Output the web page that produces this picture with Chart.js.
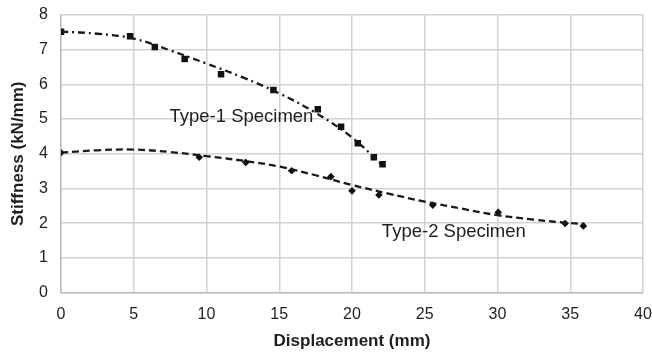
<!DOCTYPE html>
<html>
<head>
<meta charset="utf-8">
<script src="https://cdn.jsdelivr.net/npm/chart.js@4.4.1/dist/chart.umd.min.js"></script>
<style>
  html, body { margin: 0; padding: 0; background: #fff; }
  #wrap { width: 652px; height: 352px; }
</style>
</head>
<body>
<div id="wrap"><canvas id="stiffChart" width="652" height="352"></canvas></div>
<script>
// ------------ DATA ------------------------------------
const xTicks = [0, 5, 10, 15, 20, 25, 30, 35, 40];
const yTicks = [0, 1, 2, 3, 4, 5, 6, 7, 8];

// Type-1 specimen measured points
const type1X = [0, 4.75, 6.45, 8.5, 11.0, 14.6, 17.65, 19.25, 20.4, 21.5, 22.1];
const type1Y = [7.52, 7.39, 7.08, 6.73, 6.29, 5.84, 5.28, 4.78, 4.30, 3.90, 3.70];

// Type-2 specimen measured points
const type2X = [0, 9.5, 12.7, 15.85, 18.55, 20.0, 21.85, 25.55, 30.05, 34.65, 35.9];
const type2Y = [4.03, 3.90, 3.75, 3.51, 3.34, 2.93, 2.81, 2.52, 2.31, 1.99, 1.92];

// trend lines as drawn in the picture
const trend1X = [0, 2.5, 5, 7.5, 10, 12.5, 15, 17.5, 20, 22.1];
const trend1Y = [7.52, 7.46, 7.32, 6.98, 6.60, 6.20, 5.74, 5.18, 4.47, 3.66];
const trend2X = [0, 2.5, 5, 7.5, 10, 12.5, 15, 17.5, 20, 22.5, 25, 27.5, 30, 32.5, 35, 36];
const trend2Y = [4.03, 4.10, 4.12, 4.05, 3.93, 3.80, 3.63, 3.38, 3.10, 2.85, 2.62, 2.42, 2.23, 2.10, 2.00, 1.97];

// labels placed on the plot (data coords)
const seriesLabels = ["Type-1 Specimen", "Type-2 Specimen"];
const labelX = [12.4, 27.0];
const labelY = [5.07, 1.76];

const toPts = (xs, ys) => xs.map((x, i) => ({ x: x, y: ys[i] }));
const FONT = "'Liberation Sans', Arial, sans-serif";

// ================== TEXT LABEL PLUGIN ==================
const specimenLabels = {
    id: "specimenLabels",
    afterDatasetsDraw(chart) {
        const ctx = chart.ctx;
        const xs = chart.scales.x, ys = chart.scales.y;
        ctx.save();
        ctx.font = "18.5px " + FONT;
        ctx.fillStyle = "#1e1e1e";
        ctx.textAlign = "center";
        ctx.textBaseline = "middle";
        seriesLabels.forEach((t, i) => {
            ctx.fillText(t, xs.getPixelForValue(labelX[i]), ys.getPixelForValue(labelY[i]));
        });
        ctx.restore();
    }
};

const ctx = document.getElementById("stiffChart");

new Chart(ctx, {
    type: "line",
    data: {
        datasets: [
            {
                label: "Type-1 trend",
                data: toPts(trend1X, trend1Y),
                borderColor: "#1a1a1a",
                borderWidth: 2.3,
                borderDash: [7, 4, 2, 4],
                pointRadius: 0,
                fill: false,
                tension: 0.4
            },
            {
                label: "Type-2 trend",
                data: toPts(trend2X, trend2Y),
                borderColor: "#1a1a1a",
                borderWidth: 2.3,
                borderDash: [7, 4],
                pointRadius: 0,
                fill: false,
                tension: 0.4
            },
            {
                label: "Type-1 Specimen",
                data: toPts(type1X, type1Y),
                showLine: false,
                pointStyle: "rect",
                pointRadius: 4.6,
                pointBackgroundColor: "#111",
                pointBorderColor: "#111",
                pointBorderWidth: 0
            },
            {
                label: "Type-2 Specimen",
                data: toPts(type2X, type2Y),
                showLine: false,
                pointStyle: "rectRot",
                pointRadius: 3.8,
                pointBackgroundColor: "#111",
                pointBorderColor: "#111",
                pointBorderWidth: 0
            }
        ]
    },
    options: {
        responsive: false,
        animation: false,
        layout: { padding: { left: 0, right: 9, top: 15, bottom: 0 } },
        plugins: {
            legend: { display: false },
            tooltip: { enabled: false }
        },
        scales: {
            x: {
                type: "linear",
                min: 0,
                max: 40,
                afterBuildTicks: (axis) => { axis.ticks = xTicks.map(v => ({ value: v })); },
                afterFit: (axis) => {
                    axis.height = 59.5;
                    axis.paddingLeft = 0;
                    axis.paddingRight = 0;
                },
                grid: { color: "#d2d2d2", lineWidth: 1.5, drawTicks: false },
                border: { color: "#bdbdbd", width: 1.5 },
                ticks: {
                    padding: 12,
                    color: "#1e1e1e",
                    font: { family: FONT, size: 16 },
                    maxRotation: 0
                },
                title: {
                    display: true,
                    text: "Displacement (mm)",
                    color: "#1e1e1e",
                    padding: { top: 6, bottom: 0 },
                    font: { family: FONT, size: 17, weight: "bold" }
                }
            },
            y: {
                type: "linear",
                min: 0,
                max: 8,
                afterBuildTicks: (axis) => { axis.ticks = yTicks.map(v => ({ value: v })); },
                afterFit: (axis) => {
                    axis.width = 61;
                    axis.paddingTop = 0;
                    axis.paddingBottom = 0;
                },
                grid: { color: "#d2d2d2", lineWidth: 1.5, drawTicks: false },
                border: { color: "#bdbdbd", width: 1.5 },
                ticks: {
                    padding: 13,
                    color: "#1e1e1e",
                    font: { family: FONT, size: 16 }
                },
                title: {
                    display: true,
                    text: "Stiffness (kN/mm)",
                    color: "#1e1e1e",
                    padding: { top: 8, bottom: 0 },
                    font: { family: FONT, size: 17, weight: "bold" }
                }
            }
        }
    },
    plugins: [specimenLabels]
});
</script>
</body>
</html>
